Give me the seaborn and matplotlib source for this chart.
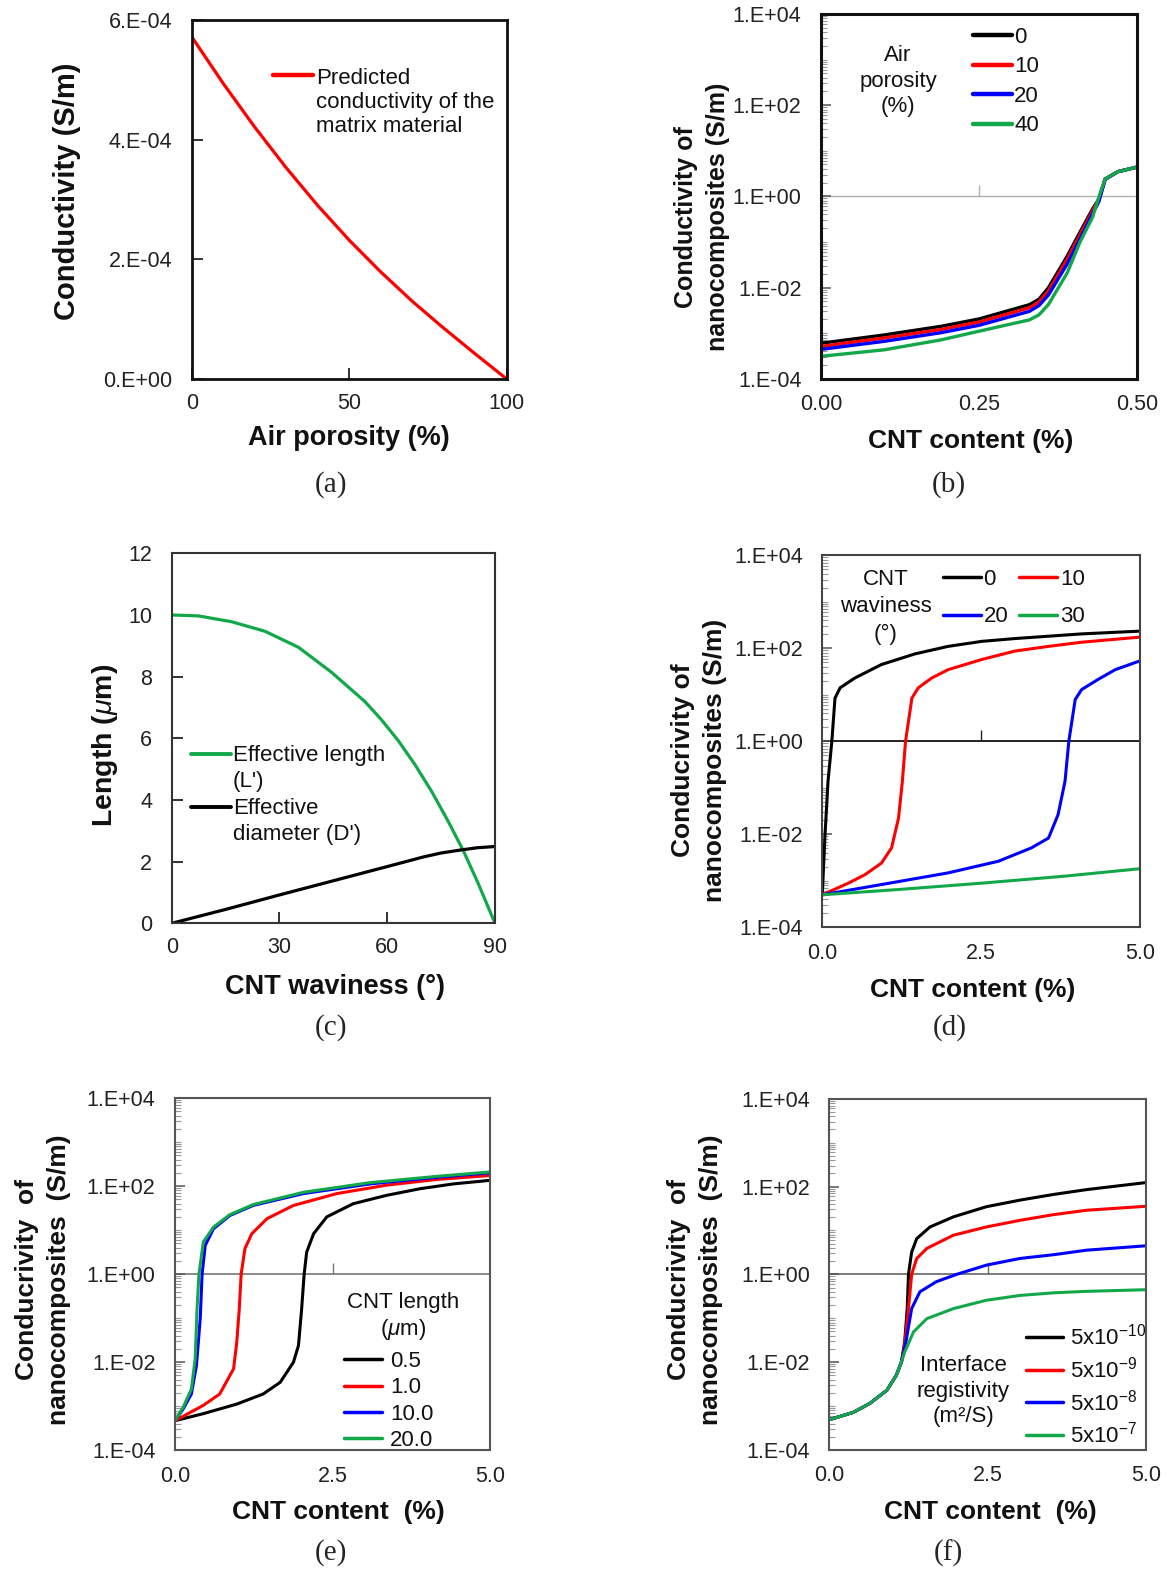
import numpy as np
import pandas as pd
import matplotlib
matplotlib.use("Agg")
import matplotlib.pyplot as plt
import seaborn as sns
from matplotlib.lines import Line2D
from matplotlib.ticker import FixedLocator, FixedFormatter, LogLocator, NullFormatter
from matplotlib.legend_handler import HandlerLine2D

# ---------------- data ----------------
# (a)
a_porosity = [0, 10, 20, 30, 40, 50, 60, 70, 80, 90, 100]
a_conductivity = [5.72e-4, 4.94e-4, 4.21e-4, 3.53e-4, 2.90e-4, 2.32e-4, 1.79e-4,
                  1.30e-4, 0.85e-4, 0.42e-4, 0.0]
a_yticks = [0, 2e-4, 4e-4, 6e-4]
a_yticklabels = ["0.E+00", "2.E-04", "4.E-04", "6.E-04"]
a_xticks = [0, 50, 100]

# (b)
b_names = ["0", "10", "20", "40"]
b_x = [0.00, 0.10, 0.19, 0.25, 0.33, 0.345, 0.36, 0.39, 0.41, 0.43, 0.44, 0.45, 0.47, 0.50]
b_y0 = [6.0e-4, 9.1e-4, 1.41e-3, 2.04e-3, 4.2e-3, 5.5e-3, 9.8e-3, 4.9e-2, 0.162, 0.525, 0.87, 2.4, 3.47, 4.37]
b_y10 = [5.1e-4, 7.8e-4, 1.20e-3, 1.74e-3, 3.6e-3, 4.8e-3, 8.3e-3, 4.2e-2, 0.141, 0.479, 0.83, 2.4, 3.47, 4.37]
b_y20 = [4.4e-4, 6.6e-4, 1.02e-3, 1.48e-3, 3.0e-3, 4.0e-3, 6.8e-3, 3.3e-2, 0.115, 0.417, 0.76, 2.34, 3.47, 4.37]
b_y40 = [3.1e-4, 4.3e-4, 7.1e-4, 1.10e-3, 1.95e-3, 2.5e-3, 4.2e-3, 2.1e-2, 9.8e-2, 0.347, 0.955, 2.4, 3.47, 4.37]
b_xticks = [0.0, 0.25, 0.5]
b_xticklabels = ["0.00", "0.25", "0.50"]

# (c)
c_waviness = [0, 7.4, 16.7, 26.0, 35.3, 44.5, 53.8, 58.4, 63.1, 67.7, 72.4, 77.0, 81.2, 85.3, 90]
c_eff_length = [10.0, 9.97, 9.78, 9.47, 8.95, 8.14, 7.19, 6.60, 5.92, 5.15, 4.27, 3.30, 2.35, 1.30, 0.0]
c_waviness_d = [0, 15, 30, 45, 60, 70, 75, 80, 85, 90]
c_eff_diam = [0.0, 0.45, 0.92, 1.38, 1.84, 2.15, 2.28, 2.37, 2.45, 2.49]
c_yticks = [0, 2, 4, 6, 8, 10, 12]
c_xticks = [0, 30, 60, 90]

# log-panel ticks
log_yticks = [1e-4, 1e-2, 1e0, 1e2, 1e4]
log_yticklabels = ["1.E-04", "1.E-02", "1.E+00", "1.E+02", "1.E+04"]
c5_xticks = [0.0, 2.5, 5.0]
c5_xticklabels = ["0.0", "2.5", "5.0"]

# (d) CNT waviness
d_names = ["0", "10", "20", "30"]
d_x0 = [0, 0.04, 0.09, 0.15, 0.20, 0.28, 0.51, 0.93, 1.46, 1.98, 2.51, 3.03, 3.56, 4.08, 5.0]
d_y0 = [5.0e-4, 8.3e-3, 0.138, 1.0, 8.5, 14.1, 22.9, 44.7, 75.9, 110, 141, 162, 182, 204, 234]
d_x10 = [0, 0.41, 0.67, 0.93, 1.09, 1.20, 1.26, 1.31, 1.41, 1.51, 1.72, 1.98, 2.51, 3.03, 3.56, 4.08, 5.0]
d_y10 = [5.0e-4, 8.9e-4, 1.35e-3, 2.4e-3, 5.1e-3, 2.24e-2, 0.138, 1.0, 8.5, 14.1, 22.9, 34.7, 57.5, 87.1, 110, 135, 174]
d_x20 = [0, 0.93, 1.98, 2.77, 3.29, 3.56, 3.71, 3.82, 3.88, 3.98, 4.08, 4.34, 4.61, 5.0]
d_y20 = [5.0e-4, 8.3e-4, 1.48e-3, 2.63e-3, 5.1e-3, 8.3e-3, 2.63e-2, 0.138, 1.0, 7.9, 12.9, 21.4, 34.7, 53.7]
d_x30 = [0, 1.2, 2.51, 3.82, 5.0]
d_y30 = [5.0e-4, 6.5e-4, 8.9e-4, 1.26e-3, 1.82e-3]

# (e) CNT length
e_names = ["0.5", "1.0", "10.0", "20.0"]
e_x05 = [0, 0.45, 0.98, 1.40, 1.67, 1.88, 1.96, 2.01, 2.05, 2.09, 2.20, 2.41, 2.83, 3.36, 3.89, 4.42, 5.0]
e_y05 = [4.7e-4, 6.8e-4, 1.12e-3, 1.9e-3, 3.5e-3, 1.0e-2, 2.4e-2, 0.162, 1.0, 3.16, 8.3, 20, 39.8, 61.7, 87.1, 112, 135]
e_x1 = [0, 0.45, 0.71, 0.93, 0.98, 1.02, 1.05, 1.11, 1.22, 1.46, 1.88, 2.57, 3.36, 4.15, 5.0]
e_y1 = [4.7e-4, 1.05e-3, 1.9e-3, 7.1e-3, 2.8e-2, 0.162, 1.0, 3.8, 8.3, 18.2, 36.3, 67.6, 105, 141, 174]
e_x10 = [0, 0.13, 0.26, 0.34, 0.40, 0.43, 0.48, 0.61, 0.87, 1.24, 2.04, 3.10, 4.15, 5.0]
e_y10 = [4.7e-4, 8.7e-4, 1.9e-3, 8.3e-3, 9.5e-2, 1.0, 4.5, 10.7, 21.4, 36.3, 67.6, 112, 158, 200]
e_x20 = [0, 0.13, 0.26, 0.32, 0.35, 0.38, 0.45, 0.61, 0.87, 1.24, 2.04, 3.10, 4.15, 5.0]
e_y20 = [4.7e-4, 9.5e-4, 2.45e-3, 1.2e-2, 0.162, 1.0, 5.4, 11.7, 22.4, 38, 72.4, 120, 166, 209]

# (f) interface resistivity
f_names = ["5x10$^{-10}$", "5x10$^{-9}$", "5x10$^{-8}$", "5x10$^{-7}$"]
f_x1 = [0, 0.38, 0.64, 0.91, 1.06, 1.14, 1.19, 1.23, 1.25, 1.30, 1.38, 1.59, 1.96, 2.48, 3.01, 3.54, 4.06, 5.0]
f_y1 = [4.9e-4, 7.2e-4, 1.15e-3, 2.3e-3, 5.1e-3, 1.02e-2, 2.9e-2, 0.166, 1.0, 3.2, 6.5, 12, 20.4, 34.7, 49, 66, 85, 123]
f_x2 = [0, 0.38, 0.64, 0.91, 1.06, 1.14, 1.19, 1.25, 1.30, 1.38, 1.54, 1.96, 2.48, 3.01, 3.54, 4.06, 5.0]
f_y2 = [4.9e-4, 7.2e-4, 1.15e-3, 2.3e-3, 5.1e-3, 1.02e-2, 2.45e-2, 0.166, 1.0, 2.3, 3.9, 7.8, 12, 17, 22.9, 28.8, 35.5]
f_x3 = [0, 0.38, 0.64, 0.91, 1.06, 1.14, 1.21, 1.30, 1.43, 1.69, 2.01, 2.48, 3.01, 3.54, 4.06, 5.0]
f_y3 = [4.9e-4, 7.2e-4, 1.15e-3, 2.3e-3, 5.1e-3, 1.02e-2, 2.9e-2, 0.166, 0.40, 0.68, 1.0, 1.62, 2.3, 2.8, 3.55, 4.47]
f_x4 = [0, 0.38, 0.64, 0.91, 1.06, 1.14, 1.19, 1.33, 1.54, 1.96, 2.48, 3.01, 3.54, 4.06, 5.0]
f_y4 = [4.9e-4, 7.2e-4, 1.15e-3, 2.3e-3, 5.1e-3, 1.02e-2, 1.7e-2, 4.9e-2, 9.8e-2, 0.166, 0.257, 0.331, 0.38, 0.41, 0.447]

# ---------------- style ----------------
sns.set_theme(style="white")
plt.rcParams['font.family'] = ['Liberation Sans', 'DejaVu Sans']
plt.rcParams['mathtext.fontset'] = 'custom'
plt.rcParams['mathtext.rm'] = 'Liberation Sans'
plt.rcParams['mathtext.it'] = 'Liberation Sans:italic'
plt.rcParams['mathtext.bf'] = 'Liberation Sans:bold'

BLACK, RED, BLUE, GREEN = "#000000", "#ff0000", "#0000ff", "#12a84a"
COLS = [BLACK, RED, BLUE, GREEN]
TICK_FS = 15.5
LEG_FS = 16

W, H = 1167, 1573
fig = plt.figure(figsize=(W / 100, H / 100), dpi=100)


def add_ax(box):
    l, r, t, b = box
    return fig.add_axes([l / W, 1 - b / H, (r - l) / W, (b - t) / H])


def ftext(x, y, s, **kw):
    fig.text(x / W, 1 - y / H, s, **kw)


def set_labels(ax, box, xlabel, xpos, ylabel, ypos, xfs=19, yfs=19, yls=1.4):
    l, r, t, b = box
    ax.set_xlabel(xlabel, fontsize=xfs, fontweight='bold', va='center', color='#111')
    ax.xaxis.set_label_coords((xpos[0] - l) / (r - l), (b - xpos[1]) / (b - t))
    ax.set_ylabel(ylabel, fontsize=yfs, fontweight='bold', va='center', ha='center',
                  multialignment='center', linespacing=yls, color='#111')
    ax.yaxis.set_label_coords((ypos[0] - l) / (r - l), (b - ypos[1]) / (b - t))


def style_spines(ax, color, lw):
    for s in ax.spines.values():
        s.set_visible(True)
        s.set_color(color)
        s.set_linewidth(lw)


def linear_ticks(ax):
    ax.tick_params(axis='both', which='major', direction='in', length=8, width=1.3,
                   color='#222', labelcolor='#222', labelsize=TICK_FS,
                   left=True, bottom=True, right=False, top=False)
    ax.tick_params(axis='y', pad=14)
    ax.tick_params(axis='x', pad=10)


def log_setup(ax, xticks, xticklabels, xmax, mid, line_color, line_lw):
    ax.set_yscale('log')
    ax.set_ylim(1e-4, 1e4)
    ax.set_xlim(0, xmax)
    ax.yaxis.set_major_locator(FixedLocator(log_yticks))
    ax.yaxis.set_major_formatter(FixedFormatter(log_yticklabels))
    ax.yaxis.set_minor_locator(LogLocator(base=10, subs=np.arange(1, 10), numticks=100))
    ax.yaxis.set_minor_formatter(NullFormatter())
    ax.set_xticks(xticks)
    ax.set_xticklabels(xticklabels)
    ax.tick_params(axis='y', which='major', direction='in', length=7, width=1.1,
                   color='#555', labelcolor='#222', labelsize=TICK_FS, pad=14,
                   left=True, right=False)
    ax.tick_params(axis='y', which='minor', direction='in', length=4, width=0.8,
                   color='#999', left=True, right=False)
    ax.tick_params(axis='x', which='both', length=0, labelsize=TICK_FS,
                   labelcolor='#222', pad=11, bottom=True, top=False)
    # horizontal axis crossing at 1.E+00 with its middle tick
    sec = ax.secondary_xaxis(0.5)
    sec.set_xticks([mid])
    sec.set_xticklabels([])
    sec.xaxis.set_ticks_position('top')
    sec.tick_params(axis='x', which='both', direction='out', length=8, width=1.0,
                    color=line_color, top=True, bottom=False, labeltop=False,
                    labelbottom=False)
    for s in ['top', 'bottom']:
        sec.spines[s].set_color(line_color)
        sec.spines[s].set_linewidth(line_lw)
    sec.spines['left'].set_visible(False)
    sec.spines['right'].set_visible(False)


def long_df(xs, ys, names):
    return pd.concat([pd.DataFrame({'x': x, 'y': y, 's': n}) for x, y, n in zip(xs, ys, names)],
                     ignore_index=True)


class TopLine(HandlerLine2D):
    """Legend line aligned to the first line of a multi-line label."""
    def __init__(self, shift, **kw):
        super().__init__(**kw)
        self.shift = shift

    def create_artists(self, legend, orig_handle, xdescent, ydescent, width, height,
                       fontsize, trans):
        arts = super().create_artists(legend, orig_handle, xdescent, ydescent, width,
                                      height, fontsize, trans)
        for a in arts:
            a.set_ydata(np.asarray(a.get_ydata(), float) + self.shift * fontsize)
        return arts


def place_legend(ax, handles, labels, x, y, **kw):
    opts = dict(loc='upper left', bbox_to_anchor=(x / W, 1 - y / H),
                bbox_transform=fig.transFigure, frameon=False, borderpad=0,
                borderaxespad=0, prop={'size': LEG_FS})
    opts.update(kw)
    leg = ax.legend(handles, labels, **opts)
    for t in leg.get_texts():
        t.set_color('#111')
    return leg


# ---------------- (a) ----------------
box_a = (191.7, 506.7, 20, 379)
ax = add_ax(box_a)
sns.lineplot(x=a_porosity, y=a_conductivity, ax=ax, color=RED, linewidth=2.3,
             estimator=None, sort=False)
ax.set_xlim(0, 100)
ax.set_ylim(0, 6e-4)
ax.set_xticks(a_xticks)
ax.yaxis.set_major_locator(FixedLocator(a_yticks))
ax.yaxis.set_major_formatter(FixedFormatter(a_yticklabels))
linear_ticks(ax)
style_spines(ax, '#111', 2.0)
set_labels(ax, box_a, "Air porosity (%)", (349, 438), "Conductivity (S/m)", (67, 191),
           xfs=19.5, yfs=21)
h = Line2D([], [], color=RED, linewidth=3.2)
leg = place_legend(ax, [h], ["Predicted\nconductivity of the\nmatrix material"], 273, 68,
                   handlelength=1.8, handletextpad=0.12,
                   handler_map={h: TopLine(1.22)})
for t in leg.get_texts():
    t.set_linespacing(1.18)
ftext(331, 485, "(a)", family='Liberation Serif', fontsize=21, ha='center', va='center')

# ---------------- (b) ----------------
box_b = (821, 1136.7, 14, 378.7)
ax = add_ax(box_b)
df_b = long_df([b_x] * 4, [b_y0, b_y10, b_y20, b_y40], b_names)
sns.lineplot(data=df_b, x='x', y='y', hue='s', hue_order=b_names, palette=COLS, ax=ax,
             linewidth=2.4, estimator=None, sort=False, legend=False)
log_setup(ax, b_xticks, b_xticklabels, 0.5, 0.25, '#b0b0b0', 1.0)
style_spines(ax, '#111', 2.2)
set_labels(ax, box_b, "CNT content (%)", (971, 441),
           "Conductivity of\nnanocomposites (S/m)", (702, 217), xfs=19, yfs=18)
hs = [Line2D([], [], color=c, linewidth=3.2) for c in COLS]
place_legend(ax, hs, b_names, 973, 27, handlelength=1.75, handletextpad=0.1,
             labelspacing=0.38)
ftext(898, 81, "Air\nporosity\n(%)", fontsize=LEG_FS, ha='center', va='center',
      multialignment='center', linespacing=1.27, color='#111')
ftext(949, 485, "(b)", family='Liberation Serif', fontsize=21, ha='center', va='center')

# ---------------- (c) ----------------
box_c = (171.7, 495, 553.3, 923.3)
ax = add_ax(box_c)
df_c = long_df([c_waviness, c_waviness_d], [c_eff_length, c_eff_diam], ["L", "D"])
sns.lineplot(data=df_c, x='x', y='y', hue='s', hue_order=["L", "D"],
             palette=[GREEN, BLACK], ax=ax, linewidth=2.3, estimator=None, sort=False,
             legend=False)
ax.set_xlim(0, 90)
ax.set_ylim(0, 12)
ax.set_xticks(c_xticks)
ax.set_yticks(c_yticks)
linear_ticks(ax)
style_spines(ax, '#333', 1.5)
set_labels(ax, box_c, "CNT waviness (°)", (335, 987), r"Length ($\mu$m)", (105, 745),
           xfs=19.5, yfs=20.5)
hL = Line2D([], [], color=GREEN, linewidth=2.8)
hD = Line2D([], [], color=BLACK, linewidth=2.8)
leg = place_legend(ax, [hL, hD], ["Effective length\n(L')", "Effective\ndiameter (D')"],
                   190.5, 745, handlelength=1.8, handletextpad=0.1, labelspacing=0.3,
                   handler_map={hL: TopLine(0.65), hD: TopLine(0.65)})
for t in leg.get_texts():
    t.set_linespacing(1.29)
ftext(331, 1028, "(c)", family='Liberation Serif', fontsize=21, ha='center', va='center')

# ---------------- (d) ----------------
box_d = (822.3, 1140, 555.3, 927.3)
ax = add_ax(box_d)
df_d = long_df([d_x0, d_x10, d_x20, d_x30], [d_y0, d_y10, d_y20, d_y30], d_names)
sns.lineplot(data=df_d, x='x', y='y', hue='s', hue_order=d_names, palette=COLS, ax=ax,
             linewidth=2.2, estimator=None, sort=False, legend=False)
log_setup(ax, c5_xticks, c5_xticklabels, 5.0, 2.5, '#222', 1.4)
style_spines(ax, '#444', 1.5)
set_labels(ax, box_d, "CNT content (%)", (973, 990),
           "Conducrivity of\nnanocomposites (S/m)", (699, 760), xfs=19, yfs=19)
hs = [Line2D([], [], color=c, linewidth=2.5) for c in COLS]
order = [0, 2, 1, 3]
place_legend(ax, [hs[i] for i in order], [d_names[i] for i in order], 943, 569,
             ncol=2, handlelength=1.7, handletextpad=0.12, labelspacing=0.74,
             columnspacing=0.5)
ftext(886, 607, "CNT\nwaviness\n(°)", fontsize=LEG_FS, ha='center', va='center',
      multialignment='center', linespacing=1.42, color='#111')
ftext(950, 1028, "(d)", family='Liberation Serif', fontsize=21, ha='center', va='center')

# ---------------- (e) ----------------
box_e = (175, 490, 1098, 1450.3)
ax = add_ax(box_e)
df_e = long_df([e_x05, e_x1, e_x10, e_x20], [e_y05, e_y1, e_y10, e_y20], e_names)
sns.lineplot(data=df_e, x='x', y='y', hue='s', hue_order=e_names, palette=COLS, ax=ax,
             linewidth=2.2, estimator=None, sort=False, legend=False)
log_setup(ax, c5_xticks, c5_xticklabels, 5.0, 2.5, '#777', 1.2)
style_spines(ax, '#555', 1.5)
set_labels(ax, box_e, "CNT content  (%)", (338, 1512),
           "Conducrivity  of\nnanocomposites  (S/m)", (43, 1280), xfs=19, yfs=19)
hs = [Line2D([], [], color=c, linewidth=2.5) for c in COLS]
place_legend(ax, hs, e_names, 344, 1351, handlelength=1.7, handletextpad=0.38,
             labelspacing=0.24)
ftext(403, 1317, "CNT length\n" + r"($\mu$m)", fontsize=LEG_FS, ha='center', va='center',
      multialignment='center', linespacing=1.25, color='#111')
ftext(331, 1553, "(e)", family='Liberation Serif', fontsize=21, ha='center', va='center')

# ---------------- (f) ----------------
box_f = (829.3, 1146, 1098.7, 1450)
ax = add_ax(box_f)
df_f = long_df([f_x1, f_x2, f_x3, f_x4], [f_y1, f_y2, f_y3, f_y4], f_names)
sns.lineplot(data=df_f, x='x', y='y', hue='s', hue_order=f_names, palette=COLS, ax=ax,
             linewidth=2.2, estimator=None, sort=False, legend=False)
log_setup(ax, c5_xticks, c5_xticklabels, 5.0, 2.5, '#666', 1.2)
style_spines(ax, '#555', 1.5)
set_labels(ax, box_f, "CNT content  (%)", (990, 1512),
           "Conducrivity  of\nnanocomposites  (S/m)", (695, 1280), xfs=19, yfs=19)
hs = [Line2D([], [], color=c, linewidth=2.5) for c in COLS]
place_legend(ax, hs, f_names, 1025.5, 1324, handlelength=1.7, handletextpad=0.3,
             labelspacing=0.3)
ftext(963, 1391, "Interface\nregistivity\n(m²/S)", fontsize=LEG_FS, ha='center',
      va='center', multialignment='center', linespacing=1.3, color='#111')
ftext(948, 1553, "(f)", family='Liberation Serif', fontsize=21, ha='center', va='center')

fig.savefig("out.png", dpi=100)
